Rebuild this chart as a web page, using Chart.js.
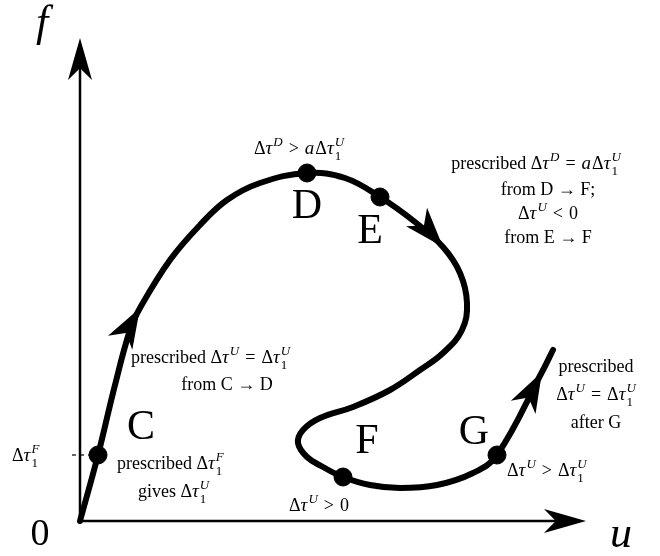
<!DOCTYPE html>
<html>
<head>
<meta charset="utf-8">
<script src="https://cdn.jsdelivr.net/npm/chart.js@4"></script>
<style>
  body { margin: 0; background: #fff; }
  canvas { display: block; }
</style>
</head>
<body>
<canvas id="diagram" width="660" height="556"></canvas>
<script>
// path of the response in the (u, f) plane
const pathU = [0, 18, 35, 50, 60, 90, 120, 147, 180, 227, 265, 300, 335, 363, 380, 387, 382, 363, 340, 310, 273, 240, 223, 218, 227, 243, 263, 290, 320, 357, 393, 417, 462, 473];
const pathF = [0, 66, 136, 191, 213, 261, 296, 321, 338, 348, 343, 324, 299, 274, 248, 218, 191, 168, 151, 131, 114, 103, 91, 78, 64, 54, 44, 36, 33, 36, 48, 66, 149, 171];
// indices of path points where direction arrows sit
const arrowTips = [4, 13, 32];

// named states on the path
const stateNames = ["C", "D", "E", "F", "G"];
const stateU = [18, 227, 300, 263, 417];
const stateF = [66, 348, 324, 44, 66];

// axes
const axisEndU = 506;
const axisEndF = 483;
const tickF = 66; // level of Δτ1F on the f axis

const toPts = (us, fs) => us.map((u, i) => ({ x: u, y: fs[i] }));

const serif = '"Liberation Serif", "DejaVu Serif", serif';

// {x} italic, ^{x} superscript, _{x} subscript
function tokenize(s) {
  const re = /\^\{([^}]*)\}|_\{([^}]*)\}|\{([^}]*)\}|([^{}^_]+)/g;
  const out = [];
  let m;
  while ((m = re.exec(s))) {
    if (m[1] !== undefined) out.push({ t: m[1], k: "sup" });
    else if (m[2] !== undefined) out.push({ t: m[2], k: "sub" });
    else if (m[3] !== undefined) out.push({ t: m[3], k: "it" });
    else out.push({ t: m[4], k: "n" });
  }
  return out;
}

function fontFor(k, size) {
  const small = Math.round(size * 0.72);
  if (k === "sup") return "italic " + small + "px " + serif;
  if (k === "sub") return small + "px " + serif;
  if (k === "it") return "italic " + Math.round(size * 1.08) + "px " + serif;
  return size + "px " + serif;
}

function layout(ctx, toks, size) {
  let x = 0;
  let lastScript = null;
  const placed = [];
  toks.forEach((tk) => {
    ctx.font = fontFor(tk.k, size);
    const w = ctx.measureText(tk.t).width + (tk.k === "it" ? 1 : 0);
    let dy = 0;
    if (tk.k === "sup") dy = -size * 0.42;
    if (tk.k === "sub") dy = size * 0.32;
    if ((tk.k === "sup" || tk.k === "sub") && lastScript && lastScript.k !== tk.k) {
      // stack sub and sup over each other
      placed.push({ tk, x: lastScript.x, dy });
      x = Math.max(x, lastScript.x + w);
      lastScript = null;
      return;
    }
    placed.push({ tk, x, dy });
    if (tk.k === "sup" || tk.k === "sub") lastScript = { k: tk.k, x };
    else lastScript = null;
    x += w;
  });
  return { placed, width: x };
}

function richText(ctx, s, px, py, size, align) {
  const { placed, width } = layout(ctx, tokenize(s), size);
  const x0 = align === "center" ? px - width / 2 : px;
  ctx.textBaseline = "alphabetic";
  ctx.textAlign = "left";
  placed.forEach((p) => {
    ctx.font = fontFor(p.tk.k, size);
    ctx.fillText(p.tk.t, x0 + p.x, py + p.dy);
  });
}

// text blocks, anchored in (u, f); relations get a slightly wider space
const notes = [
  { s: "Δ{τ}^{D}\u2004>\u2004{a}Δ{τ}_{1}^{U}", u: 219, f: 367, align: "center" },
  { s: "prescribed Δ{τ}^{D}\u2004=\u2004{a}Δ{τ}_{1}^{U}", u: 456, f: 352, align: "center" },
  { s: "from D → F;", u: 468, f: 326, align: "center" },
  { s: "Δ{τ}^{U}\u2004<\u20040", u: 468, f: 302, align: "center" },
  { s: "from E → F", u: 468, f: 278, align: "center" },
  { s: "prescribed Δ{τ}^{U}\u2004=\u2004Δ{τ}_{1}^{U}", u: 51, f: 158, align: "left" },
  { s: "from C → D", u: 147, f: 131, align: "center" },
  { s: "prescribed Δ{τ}_{1}^{F}", u: 37, f: 52, align: "left" },
  { s: "gives Δ{τ}_{1}^{U}", u: 58, f: 24, align: "left" },
  { s: "Δ{τ}^{U}\u2004>\u20040", u: 209, f: 10, align: "left" },
  { s: "Δ{τ}^{U}\u2004>\u2004Δ{τ}_{1}^{U}", u: 427, f: 45, align: "left" },
  { s: "prescribed", u: 516, f: 149, align: "center" },
  { s: "Δ{τ}^{U}\u2004=\u2004Δ{τ}_{1}^{U}", u: 516, f: 121, align: "center" },
  { s: "after G", u: 516, f: 93, align: "center" },
  { s: "Δ{τ}_{1}^{F}", u: -68, f: 60, align: "left" }
];

// big state letters sit next to their dots
const letterU = [61, 227, 290, 287, 394];
const letterF = [93, 314, 289, 79, 88];

function drawArrow(ctx, tx, ty, dx, dy, len, half) {
  const n = Math.hypot(dx, dy);
  dx /= n; dy /= n;
  const nx = -dy, ny = dx;
  ctx.beginPath();
  ctx.moveTo(tx, ty);
  ctx.lineTo(tx - len * dx + half * nx, ty - len * dy + half * ny);
  ctx.lineTo(tx - len * 0.72 * dx, ty - len * 0.72 * dy);
  ctx.lineTo(tx - len * dx - half * nx, ty - len * dy - half * ny);
  ctx.closePath();
  ctx.fill();
}

const overlay = {
  id: "overlay",
  afterDatasetsDraw(chart) {
    const { ctx, scales: { x, y } } = chart;
    ctx.save();
    ctx.fillStyle = "#000";

    // axis arrowheads
    drawArrow(ctx, x.getPixelForValue(axisEndU), y.getPixelForValue(0), 1, 0, 42, 12);
    drawArrow(ctx, x.getPixelForValue(0), y.getPixelForValue(axisEndF), 0, -1, 42, 12);

    // direction arrows along the path
    arrowTips.forEach((i) => {
      const px = (j) => x.getPixelForValue(pathU[j]);
      const py = (j) => y.getPixelForValue(pathF[j]);
      drawArrow(ctx, px(i), py(i), px(i + 1) - px(i - 1), py(i + 1) - py(i - 1), 40, 14);
    });

    // letters
    ctx.textAlign = "center";
    ctx.textBaseline = "middle";
    ctx.font = "42px " + serif;
    stateNames.forEach((name, i) => {
      ctx.fillText(name, x.getPixelForValue(letterU[i]), y.getPixelForValue(letterF[i]));
    });
    ctx.font = "38px " + serif;
    ctx.fillText("0", x.getPixelForValue(-40), y.getPixelForValue(-14));
    ctx.font = "italic 44px " + serif;
    ctx.fillText("f", x.getPixelForValue(-38), y.getPixelForValue(497));
    ctx.fillText("u", x.getPixelForValue(541), y.getPixelForValue(-14));

    notes.forEach((n) => {
      richText(ctx, n.s, x.getPixelForValue(n.u), y.getPixelForValue(n.f), 18, n.align);
    });
    ctx.restore();
  }
};

new Chart(document.getElementById("diagram").getContext("2d"), {
  type: "scatter",
  data: {
    datasets: [
      {
        label: "u axis",
        data: [{ x: 0, y: 0 }, { x: axisEndU - 10, y: 0 }],
        showLine: true,
        borderColor: "#000",
        borderWidth: 2.5,
        pointRadius: 0
      },
      {
        label: "f axis",
        data: [{ x: 0, y: 0 }, { x: 0, y: axisEndF - 10 }],
        showLine: true,
        borderColor: "#000",
        borderWidth: 2.5,
        pointRadius: 0
      },
      {
        label: "tick",
        data: [{ x: -8, y: tickF }, { x: 16, y: tickF }],
        showLine: true,
        borderColor: "#000",
        borderWidth: 1.2,
        borderDash: [4, 4],
        pointRadius: 0
      },
      {
        label: "path",
        data: toPts(pathU, pathF),
        showLine: true,
        borderColor: "#000",
        borderWidth: 6,
        borderCapStyle: "round",
        borderJoinStyle: "round",
        tension: 0.4,
        pointRadius: 0
      },
      {
        label: "states",
        data: toPts(stateU, stateF),
        showLine: false,
        backgroundColor: "#000",
        borderColor: "#000",
        pointRadius: 9
      }
    ]
  },
  options: {
    responsive: false,
    animation: false,
    layout: { padding: 0, autoPadding: false },
    plugins: { legend: { display: false }, tooltip: { enabled: false } },
    scales: {
      x: { type: "linear", min: -80, max: 580, display: false },
      y: { type: "linear", min: -35, max: 521, display: false }
    }
  },
  plugins: [overlay]
});
</script>
</body>
</html>
